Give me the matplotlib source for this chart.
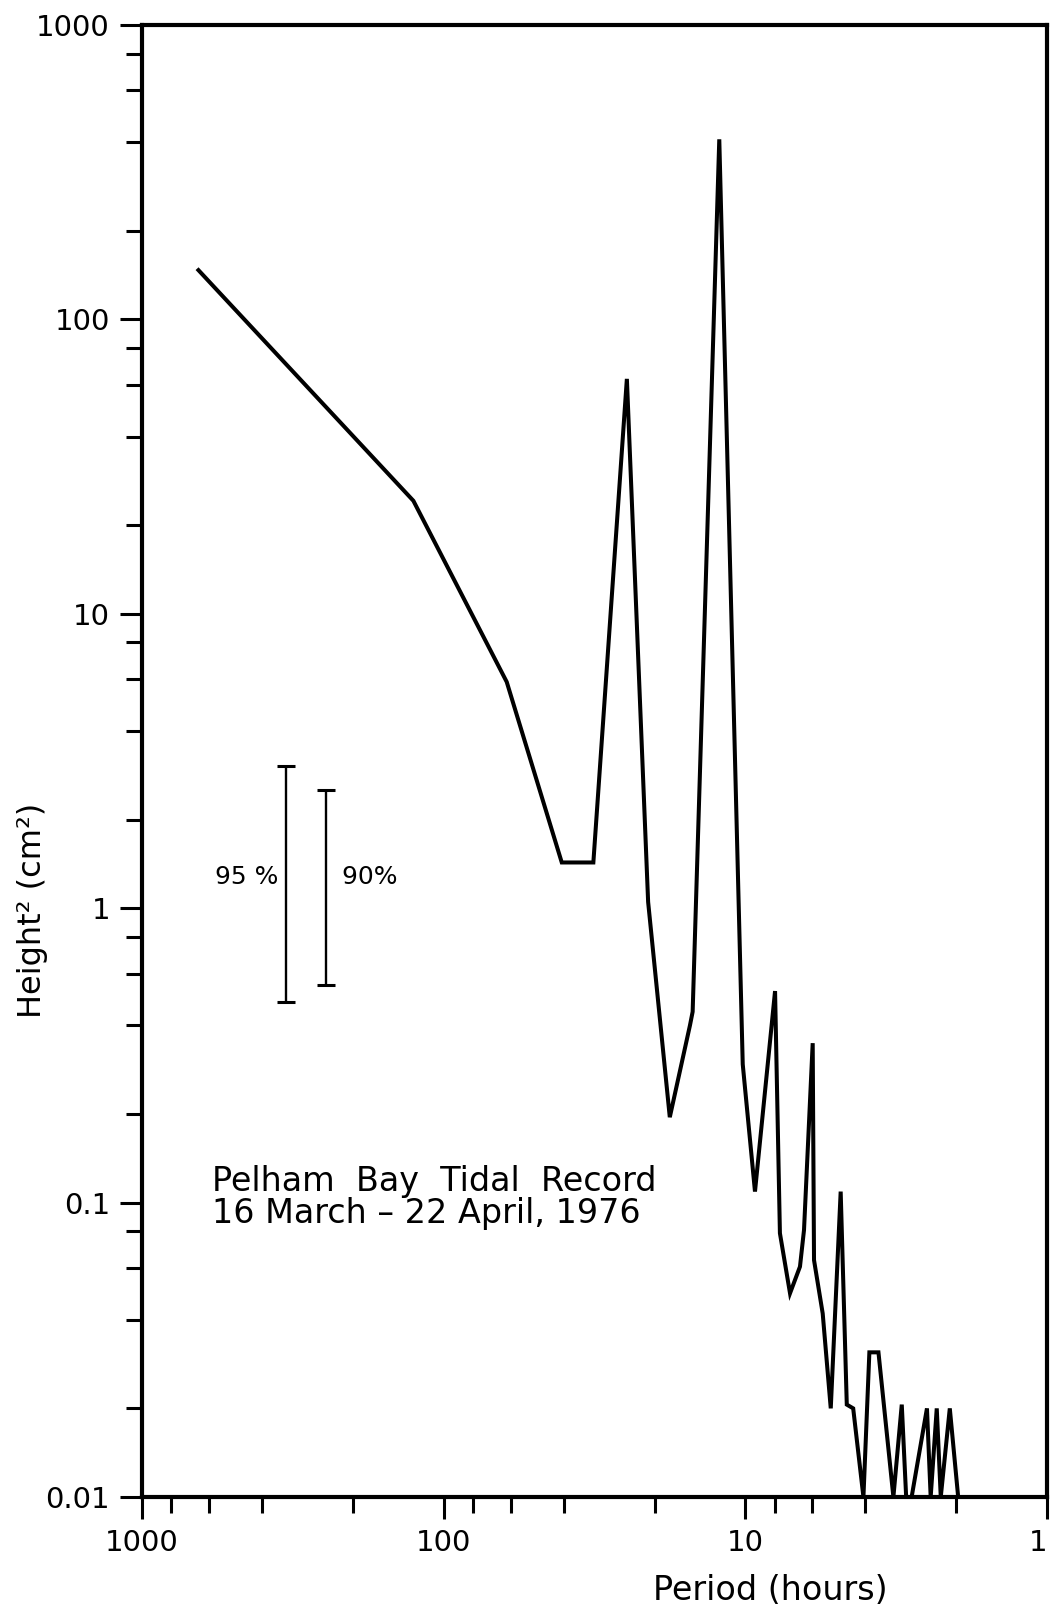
import matplotlib
matplotlib.use("Agg")
import matplotlib.pyplot as plt
from matplotlib.ticker import FixedLocator, FixedFormatter, NullFormatter
import numpy as np

# ---- data ----
period = [650, 126, 61.8, 40.6, 31.9, 24.7, 21.0, 17.8, 15.26, 14.95, 12.2,
          10.2, 9.29, 7.97, 7.68, 7.11, 6.59, 6.39, 5.98, 5.92, 5.54, 5.21,
          4.83, 4.61, 4.39, 4.06, 3.88, 3.62, 3.23, 3.03, 2.93, 2.81, 2.50,
          2.43, 2.32, 2.25, 2.10, 1.97]
power = [147, 24.2, 5.87, 1.43, 1.43, 62.8, 1.05, 0.195, 0.40, 0.445, 409,
         0.295, 0.109, 0.523, 0.0787, 0.0492, 0.0606, 0.0807, 0.348, 0.0638,
         0.042, 0.020, 0.109, 0.0206, 0.020, 0.01, 0.031, 0.031, 0.01, 0.0206,
         0.01, 0.01, 0.02, 0.01, 0.02, 0.01, 0.02, 0.01]

ci_labels = ["95 %", "90%"]
ci_period = [333, 246]
ci_low = [0.481, 0.548]
ci_high = [3.04, 2.53]

x_ticks = [1000, 100, 10, 1]
x_ticklabels = ["1000", "100", "10", "1"]
y_ticks = [1000, 100, 10, 1, 0.1, 0.01]
y_ticklabels = ["1000", "100", "10", "1", "0.1", "0.01"]

W, H = 1052, 1612
fig = plt.figure(figsize=(W / 100, H / 100), dpi=100)
L, R, T, B = 142, 1047, 25, 1497
ax = fig.add_axes([L / W, (H - B) / H, (R - L) / W, (B - T) / H])

ax.set_xscale("log")
ax.set_yscale("log")
ax.set_xlim(1000, 1)
ax.set_ylim(0.01, 1000)

ax.plot(period, power, color="black", lw=2.9, solid_joinstyle="miter",
        clip_on=False, zorder=3)

# confidence bars
ci_mid = [np.sqrt(lo * hi) for lo, hi in zip(ci_low, ci_high)]
yerr = [[m - lo for m, lo in zip(ci_mid, ci_low)],
        [hi - m for m, hi in zip(ci_mid, ci_high)]]
ax.errorbar(ci_period, ci_mid, yerr=yerr, fmt="none", ecolor="black",
            elinewidth=1.7, capsize=6.5, capthick=2.2)

fs_ci = 18
ax.text(ci_period[0], 1.28, ci_labels[0] + " ", ha="right", va="center",
        fontsize=fs_ci)
ax.text(ci_period[1], 1.28, "  " + ci_labels[1], ha="left", va="center",
        fontsize=fs_ci)

# annotation
fig.text(212 / W, 1 - 1191 / H, "Pelham  Bay  Tidal  Record", ha="left",
         va="baseline", fontsize=24)
fig.text(212 / W, 1 - 1223 / H, "16 March \u2013 22 April, 1976", ha="left",
         va="baseline", fontsize=24)

# ticks
minor_x = [m * 10 ** e for e in range(0, 3) for m in (2, 4, 6, 8)]
minor_y = [m * 10 ** e for e in range(-2, 3) for m in (2, 4, 6, 8)]
ax.xaxis.set_major_locator(FixedLocator(x_ticks))
ax.xaxis.set_major_formatter(FixedFormatter(x_ticklabels))
ax.xaxis.set_minor_locator(FixedLocator(minor_x))
ax.xaxis.set_minor_formatter(NullFormatter())
ax.yaxis.set_major_locator(FixedLocator(y_ticks))
ax.yaxis.set_major_formatter(FixedFormatter(y_ticklabels))
ax.yaxis.set_minor_locator(FixedLocator(minor_y))
ax.yaxis.set_minor_formatter(NullFormatter())

ax.tick_params(which="major", direction="out", length=16, width=2.2,
               labelsize=21, pad=7)
ax.tick_params(which="minor", direction="out", length=11.5, width=2.2)
for s in ax.spines.values():
    s.set_linewidth(3.0)

# keep the right-most "1" inside the canvas
fig.canvas.draw()
xlabels = ax.get_xticklabels()
xlabels[-1].set_horizontalalignment("right")

ax.set_xlabel("Period (hours)", fontsize=24)
ax.xaxis.label.set(va="center", ha="center")
ax.xaxis.set_label_coords((770 - L) / (R - L), (B - 1590) / (B - T))
ax.set_ylabel("Height\u00b2 (cm\u00b2)", fontsize=23)
ax.yaxis.label.set(va="center", ha="center", rotation_mode="default")
ax.yaxis.set_label_coords((33 - L) / (R - L), (B - 910) / (B - T))

fig.savefig("out.png", dpi=100)
